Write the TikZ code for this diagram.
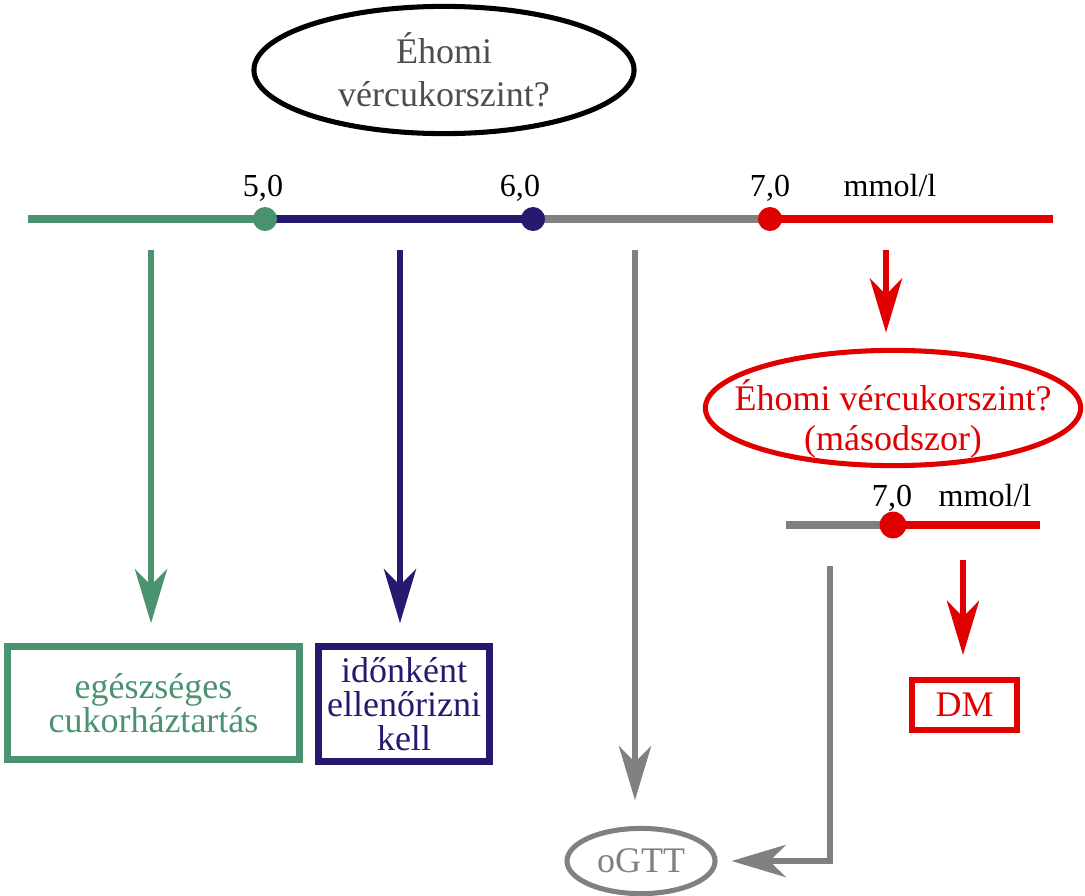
\documentclass[tikz,border=0pt]{standalone}
\usepackage{fontspec}
\setmainfont{Liberation Serif}
\usetikzlibrary{positioning, shapes.geometric, arrows.meta, calc}
\definecolor{okgreen}{RGB}{74,146,112}
\definecolor{checknavy}{RGB}{37,26,112}
\definecolor{ogttgray}{RGB}{128,128,128}
\definecolor{dmred}{RGB}{224,0,0}
\definecolor{asktext}{RGB}{77,77,77}

\begin{document}
\begin{tikzpicture}[
    x=0.025cm, y=-0.025cm,
    every node/.style={align=center, inner sep=0pt, font=\fontsize{25.6}{30.5}\selectfont},
    question/.style={draw, ellipse, line width=3.6pt},
    resultbox/.style={draw, rectangle, line width=5pt},
    scaleline/.style={line width=5pt},
    scaledot/.style={circle, fill, minimum size=0.6cm},
    scalelabel/.style={anchor=base, font=\fontsize{22.8}{27}\selectfont},
    arrow/.style={-{Stealth[length=1.35cm, width=0.8cm, inset=0.4cm]}, line width=4.7pt}
  ]
  \useasboundingbox (0,0) rectangle (1085,895);

  \node (ask) [question, text=asktext, minimum width=9.5cm, minimum height=3.18cm,
    font=\fontsize{25.6}{30.5}\selectfont] at (444,70) {Éhomi\\vércukorszint?};

  % first measurement scale
  \coordinate (sL) at (28,219);
  \coordinate (s5) at (265,219);
  \coordinate (s6) at (533,219);
  \coordinate (s7) at (770,219);
  \coordinate (sR) at (1053,219);
  \draw[scaleline, okgreen] (sL) -- (s5);
  \draw[scaleline, checknavy] (s5) -- (s6);
  \draw[scaleline, ogttgray] (s6) -- (s7);
  \draw[scaleline, dmred] (s7) -- (sR);
  \node (d5) [scaledot, okgreen] at (s5) {};
  \node (d6) [scaledot, checknavy] at (s6) {};
  \node (d7) [scaledot, dmred] at (s7) {};
  \node (l5) [scalelabel] at (263,196) {5,0};
  \node (l6) [scalelabel] at (520,196) {6,0};
  \node (l7) [scalelabel] at (770,196) {7,0};
  \node (unit) [scalelabel] at (890,196) {mmol/l};

  % outcomes
  \node (healthy) [resultbox, okgreen, minimum width=7.3cm, minimum height=2.83cm,
    font=\fontsize{25.6}{24}\selectfont] at (153.5,703) {egészséges\\cukorháztartás};
  \node (check) [resultbox, checknavy, minimum width=4.28cm, minimum height=2.88cm,
    font=\fontsize{25.6}{24}\selectfont] at (404,704) {időnként\\ellenőrizni\\kell};
  \node (ogtt) [question, ogttgray, minimum width=3.7cm, minimum height=1.63cm] at (641,861) {oGTT};
  \node (again) [question, dmred, inner xsep=-0.7cm, inner ysep=-0.26cm,
    minimum width=9.38cm, minimum height=2.88cm,
    font=\fontsize{25.6}{28.5}\selectfont] at (893,408)
    {\rule{0pt}{1.33cm}Éhomi vércukorszint?\\(másodszor)};

  % second measurement scale
  \coordinate (tL) at (786,525);
  \coordinate (t7) at (893,525);
  \coordinate (tR) at (1040,525);
  \draw[scaleline, ogttgray] (tL) -- (t7);
  \draw[scaleline, dmred] (t7) -- (tR);
  \node (e7) [scaledot, dmred, minimum size=0.67cm] at (t7) {};
  \node (m7) [scalelabel] at (892,506) {7,0};
  \node (unit2) [scalelabel] at (985,506) {mmol/l};

  \node (dm) [resultbox, dmred, line width=4.3pt, minimum width=2.63cm, minimum height=1.25cm] at (964.5,705) {DM};

  % arrows
  \coordinate (a1) at (151,250);
  \coordinate (a2) at (400,250);
  \coordinate (a3) at (635,250);
  \coordinate (a4) at (886,250);
  \coordinate (a5) at (963,560);
  \coordinate (a6) at (830,566);
  \draw[arrow, okgreen, shorten >=0.49cm] (a1) -- (a1 |- healthy.north);
  \draw[arrow, checknavy, shorten >=0.49cm] (a2) -- (a2 |- check.north);
  \draw[arrow, ogttgray, shorten >=0.64cm] (a3) -- (a3 |- ogtt.north);
  \draw[arrow, dmred, shorten >=0.38cm] (a4) -- (a4 |- again.north);
  \draw[arrow, dmred, shorten >=0.55cm] (a5) -- (a5 |- dm.north);
  \draw[arrow, ogttgray, shorten >=0.35cm] (a6) |- (ogtt.east);

\end{tikzpicture}
\end{document}
